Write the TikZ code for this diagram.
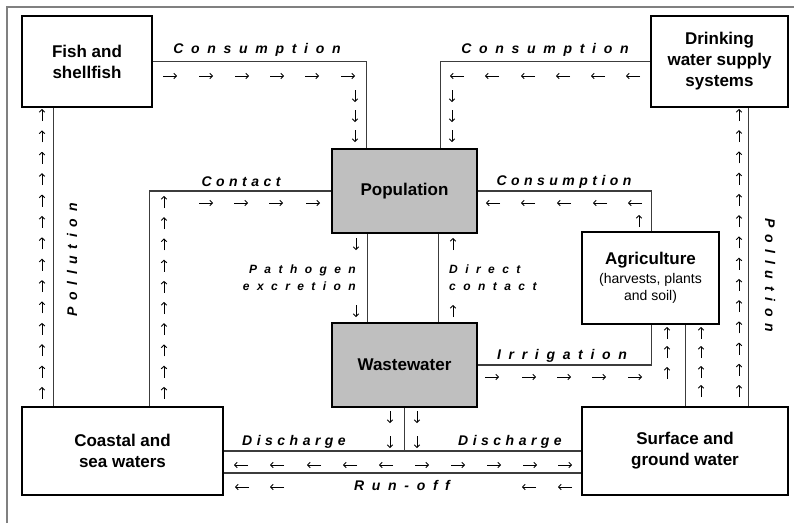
\documentclass[tikz,border=0pt]{standalone}
\usepackage{fontspec}
\setmainfont{Liberation Sans}
\usetikzlibrary{arrows.meta}
\definecolor{boxgray}{HTML}{BFBFBF}
\definecolor{linegray}{HTML}{3C3C3C}
\begin{document}
\begin{tikzpicture}[x = 1pt, y = -1pt,
            box/.style = {draw = black, line width = 2.6pt, align = center, inner sep = 0pt, font = {\fontsize{17}{21}\selectfont\bfseries}},
            grey box/.style = {box, fill = boxgray},
            link/.style = {draw = linegray, line width = 1.3pt},
            flow/.style = {inner sep = 0pt, font = {\fontsize{14}{17}\selectfont\bfseries\itshape\addfontfeature{LetterSpace = #1}}},
            flow/.default = 55,
            small flow/.style = {inner sep = 0pt, font = {\fontsize{12}{17}\selectfont\bfseries\itshape\addfontfeature{LetterSpace = 62}}},
            flowarrow/.style = {-{Straight Barb[length = 2.6pt, width = 5.5pt]}, line width = 0.9pt}]
            \useasboundingbox (0, 0) rectangle (794, 523);
            \draw[gray, line width = 1.6pt] (7, 523) -- (7, 7) -- (794, 7);

            \node[box, minimum width = 130pt, minimum height = 91pt] (fish) at (87, 61.5) {Fish and\\shellfish};
            \node[box, minimum width = 137pt, minimum height = 91pt] (drink) at (719.5, 61.5) {Drinking\\water supply\\systems};
            \node[grey box, minimum width = 145pt, minimum height = 84pt] (pop) at (404.5, 191) {Population};
            \node[grey box, minimum width = 145pt, minimum height = 84pt] (ww) at (404.5, 365) {Wastewater};
            \node[box, minimum width = 137pt, minimum height = 92pt, font = {\fontsize{14}{17}\selectfont}] (agri) at (650.5, 278) {{\fontsize{17}{19}\selectfont\bfseries Agriculture}\\[2pt](harvests, plants\\and soil)};
            \node[box, minimum width = 201pt, minimum height = 88pt] (coast) at (122.5, 451) {Coastal and\\sea waters};
            \node[box, minimum width = 206pt, minimum height = 88pt] (surf) at (685, 451) {Surface and\\ground water};

            \draw[link] (fish.east) -| ([xshift = 36pt]pop.north west);
            \draw[link] (drink.west) -| ([xshift = -38pt]pop.north east);
            \draw[link] ([xshift = 129pt]coast.north west) |- (pop.west);
            \draw[link] (pop.east) -| ([xshift = 71pt]agri.north west);
            \draw[link] ([xshift = 37pt]pop.south west) -- ([xshift = 37pt]ww.north west);
            \draw[link] ([xshift = 108pt]pop.south west) -- ([xshift = 108pt]ww.north west);
            \draw[link] (ww.east) -| ([xshift = 71pt]agri.south west);
            \draw[link] ([xshift = 105pt]agri.south west) -- ([xshift = 105pt]surf.north west);
            \draw[link] ([xshift = 33pt]fish.south west) -- ([xshift = 33pt]coast.north west);
            \draw[link] ([xshift = 99pt]drink.south west) coordinate (dp) -- (dp |- surf.north);
            \draw[link] (ww.south) -- (ww.south |- coast.east);
            \draw[link] (coast.east) -- (surf.west);
            \draw[link] ([yshift = -22pt]coast.east) -- ([yshift = -22pt]surf.west);

            \node[flow] (cons1) at (257, 50) {Consumption};
            \node[flow] (cons2) at (545, 50) {Consumption};
            \node[flow = 32] (contact) at (241, 182) {Contact};
            \node[flow = 32] (cons3) at (564, 182) {Consumption};
            \node[small flow, anchor = east, align = right] (patho) at (356, 278) {Pathogen\\excretion};
            \node[small flow, anchor = west, align = left] (direct) at (449, 278) {Direct\\contact};
            \node[flow] (irrig) at (562, 356) {Irrigation};
            \node[flow = 32] (dis1) at (294, 442) {Discharge};
            \node[flow = 32] (dis2) at (510, 442) {Discharge};
            \node[flow] (runoff) at (402, 485) {Run-off};
            \node[flow = 48, rotate = 90] (poll1) at (72, 260) {Pollution};
            \node[flow = 48, rotate = -90] (poll2) at (770, 275) {Pollution};

            \foreach \x in {170, 206, 242, 277, 312, 348}
                \draw[flowarrow] (\x - 7, 76) -- (\x + 7, 76);
            \foreach \y in {96, 116, 136}
                \draw[flowarrow] (355, \y - 6) -- (355, \y + 6);
            \foreach \x in {457, 492, 528, 563, 598, 633}
                \draw[flowarrow] (\x + 7, 76) -- (\x - 7, 76);
            \foreach \y in {96, 116, 136}
                \draw[flowarrow] (452, \y - 6) -- (452, \y + 6);
            \foreach \i in {0, ..., 9}
                \draw[flowarrow] (164, 208 + \i * 21.2) -- (164, 196 + \i * 21.2);
            \foreach \x in {206, 241, 276, 313}
                \draw[flowarrow] (\x - 7, 203) -- (\x + 7, 203);
            \foreach \i in {0, ..., 13}
                \draw[flowarrow] (42, 121 + \i * 21.38) -- (42, 109 + \i * 21.38);
            \foreach \x in {493, 528, 564, 600, 635}
                \draw[flowarrow] (\x + 7, 203) -- (\x - 7, 203);
            \draw[flowarrow] (639, 227) -- (639, 215);
            \foreach \y in {244, 311}
                \draw[flowarrow] (356, \y - 6) -- (356, \y + 6);
            \foreach \y in {244, 311}
                \draw[flowarrow] (453, \y + 6) -- (453, \y - 6);
            \foreach \x in {492, 529, 564, 599, 635}
                \draw[flowarrow] (\x - 7, 377) -- (\x + 7, 377);
            \foreach \y in {333, 352, 373}
                \draw[flowarrow] (667, \y + 6) -- (667, \y - 6);
            \foreach \y in {333, 352, 372, 391}
                \draw[flowarrow] (701, \y + 6) -- (701, \y - 6);
            \foreach \i in {0, ..., 13}
                \draw[flowarrow] (739, 121 + \i * 21.23) -- (739, 109 + \i * 21.23);
            \foreach \x in {390, 417}
                \foreach \y in {417, 442}
                    \draw[flowarrow] (\x, \y - 6) -- (\x, \y + 6);
            \foreach \x in {241, 277, 314, 350, 386}
                \draw[flowarrow] (\x + 7, 465) -- (\x - 7, 465);
            \foreach \x in {422, 458, 494, 530, 565}
                \draw[flowarrow] (\x - 7, 465) -- (\x + 7, 465);
            \foreach \x in {242, 277, 529, 565}
                \draw[flowarrow] (\x + 7, 487) -- (\x - 7, 487);
        \end{tikzpicture}
\end{document}
